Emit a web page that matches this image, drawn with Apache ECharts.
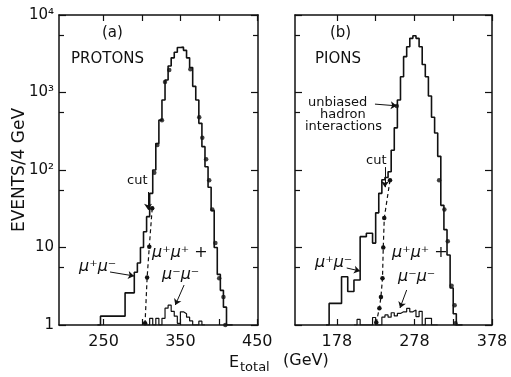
<!DOCTYPE html>
<html>
<head>
<meta charset="utf-8">
<script src="https://cdn.jsdelivr.net/npm/echarts@6/dist/echarts.min.js"></script>
<style>
  html, body { margin: 0; background: #fff; }
  #chart { width: 511px; height: 377px; }
</style>
</head>
<body>
<div id="chart"></div>
<script>
const BIN = 4; // GeV per bin

// (a) protons: events per 4 GeV bin, first bin low edge below
const protonStart = 242;
const protonCounts = [1, 1.3, 1.3, 1.3, 1.3, 1.3, 1.3, 1.3, 1.3, 2.6, 2.6, 2.6,
  4.8, 6.3, 10, 16, 25, 50, 100, 220, 440, 800, 1450, 2200, 2800, 3300, 3800, 3850,
  3500, 2800, 2100, 1200, 800, 400, 200, 110, 60, 30, 10, 4.5, 2.8, 1.7, 1, 1];
const protonDotE = [316, 320, 326, 330, 335.5, 363, 374.5, 378.5, 383.5, 387.5, 391.5, 395.5, 400.5, 406, 408.5];
const protonDotN = [92, 210, 440, 1370, 1950, 2000, 480, 260, 138, 74, 31, 11.4, 4, 2.3, 1];
const protonCutE = [313.3, 309.5, 306.7, 304];
const protonCutN = [32, 10.2, 4.1, 1.05];
const protonSameStart = 306;
const protonSameCounts = [1, 1.22, 1, 1.22, 1, 1.22, 1.65, 1.8, 1.5, 1.3, 1.05, 1.48, 1.4, 1.26, 1.13, 1, 1, 1.12, 1];

// (b) pions
const pionStart = 164;
const pionCounts = [1, 1.9, 1.9, 1.9, 1.9, 4.2, 4.2, 2.7, 2.7, 3.8, 3.8, 13.8, 13.8,
  15.3, 15.3, 11.4, 28, 50, 75, 80, 95, 180, 350, 800, 1600, 2900, 3900, 5000, 5400,
  5000, 3900, 2300, 1600, 900, 480, 300, 150, 35, 17, 8, 3, 1.4, 1, 1];
const pionDotE = [255.2, 309.8, 316.6, 321, 325.9, 329.8, 331];
const pionDotN = [670, 74, 31, 12, 3.2, 1.8, 1.05];
const pionCutE = [246.5, 239.1, 237.8, 236.8, 234.8, 232.8, 228.8];
const pionCutN = [74, 24, 10, 4, 2.3, 1.65, 1.08];
const pionSameStart = 200;
const pionSameCounts = [1, 1.18, 1, 1, 1, 1, 1.25, 1, 1, 1.26, 1.35, 1.26, 1.44, 1.31,
  1.41, 1.48, 1.48, 1.64, 1.48, 1.56, 1.28, 1.5, 1, 1.22, 1.22, 1, 1];

// axis ticks and labels
const protonTicks = [250, 300, 350, 400, 450];
const protonLabels = [250, 350, 450];
const pionTicks = [178, 228, 278, 328, 378];
const pionLabels = [178, 278, 378];

const FONT = 'DejaVu Sans';
const INK = '#111';

function steps(start, counts) {
  const pts = counts.map((c, i) => [start + i * BIN, c]);
  pts.push([start + counts.length * BIN, counts[counts.length - 1]]);
  return pts;
}
function pairs(xs, ys) {
  return xs.map((x, i) => [x, ys[i]]);
}

const axisLine = { show: true, onZero: false, lineStyle: { color: INK, width: 1.5 } };

function xAx(grid, pos, min, max, ticks, labels) {
  return {
    type: 'value', gridIndex: grid, position: pos, min: min, max: max,
    axisLine: axisLine,
    axisTick: { show: true, inside: true, length: 6, customValues: ticks, lineStyle: { color: INK, width: 1.2 } },
    axisLabel: pos === 'bottom'
      ? { show: true, customValues: labels, margin: 9, color: INK, fontFamily: FONT, fontSize: 16 }
      : { show: false },
    splitLine: { show: false }
  };
}
function sup(v) {
  const p = Math.round(Math.log10(v));
  return ['1', '10', '10²', '10³', '10⁴'][p];
}
function yAx(grid, pos, labels) {
  return {
    type: 'log', logBase: 10, gridIndex: grid, position: pos, min: 1, max: 10000,
    axisLine: axisLine,
    axisTick: { show: true, inside: true, length: 7, lineStyle: { color: INK, width: 1.2 } },
    minorTick: { show: true, splitNumber: 2, length: 5, lineStyle: { color: INK, width: 1.2 } },
    axisLabel: labels
      ? { show: true, margin: 5, color: INK, fontFamily: FONT, fontSize: 15, formatter: sup }
      : { show: false },
    splitLine: { show: false },
    minorSplitLine: { show: false }
  };
}

function arrow(from, to) {
  return [{ coord: from, symbol: 'none' }, { coord: to, symbol: 'arrow' }];
}
function arrows(list) {
  return {
    silent: true, symbolSize: 6, animation: false,
    label: { show: false },
    lineStyle: { color: INK, width: 1, type: 'solid' },
    data: list
  };
}

function hist(xi, yi, data, extra) {
  return Object.assign({
    type: 'line', xAxisIndex: xi, yAxisIndex: yi, step: 'end', data: data,
    symbol: 'none', lineStyle: { color: INK, width: 1.6 }, z: 3
  }, extra || {});
}
function dots(xi, yi, data) {
  return {
    type: 'scatter', xAxisIndex: xi, yAxisIndex: yi, data: data,
    symbol: 'circle', symbolSize: 4.5, itemStyle: { color: INK }, z: 4
  };
}
function dashed(xi, yi, data) {
  return {
    type: 'line', xAxisIndex: xi, yAxisIndex: yi, data: data,
    symbol: 'circle', symbolSize: 4.5, showSymbol: true,
    itemStyle: { color: INK }, lineStyle: { color: INK, width: 1.2, type: [4, 3] }, z: 4
  };
}

function txt(x, y, text, size, extra) {
  return {
    type: 'text', left: x, top: y, silent: true,
    style: Object.assign({ text: text, fill: INK, fontFamily: FONT, fontSize: size }, extra || {})
  };
}
const mu = { fontStyle: 'italic' };

const chart = echarts.init(document.getElementById('chart'), null, { renderer: 'canvas' });
chart.setOption({
  animation: false,
  backgroundColor: '#fff',
  grid: [
    { left: 59, top: 15, width: 199, height: 310 },
    { left: 295, top: 15, width: 197, height: 310 }
  ],
  xAxis: [
    xAx(0, 'bottom', 192, 451, protonTicks, protonLabels),
    xAx(0, 'top', 192, 451, protonTicks, protonLabels),
    xAx(1, 'bottom', 124, 378, pionTicks, pionLabels),
    xAx(1, 'top', 124, 378, pionTicks, pionLabels)
  ],
  yAxis: [
    yAx(0, 'left', true),
    yAx(0, 'right', false),
    yAx(1, 'left', false),
    yAx(1, 'right', false)
  ],
  series: [
    hist(0, 0, steps(protonStart, protonCounts), {
      markLine: arrows([
        arrow([258.4, 4.83], [289.7, 4.29]),
        arrow([307.9, 52], [307.9, 30.6]),
        arrow([354.8, 3.28], [343.4, 1.81])
      ])
    }),
    hist(0, 0, steps(protonSameStart, protonSameCounts), { lineStyle: { color: INK, width: 1.2 } }),
    dots(0, 0, pairs(protonDotE, protonDotN)),
    dashed(0, 0, pairs(protonCutE, protonCutN)),

    hist(2, 2, steps(pionStart, pionCounts), {
      markLine: arrows([
        arrow([227.1, 708], [255.1, 673]),
        arrow([240, 109], [240, 60]),
        arrow([190.7, 5.44], [207.8, 4.97]),
        arrow([268, 2.83], [259.4, 1.66])
      ])
    }),
    hist(2, 2, steps(pionSameStart, pionSameCounts), { lineStyle: { color: INK, width: 1.2 } }),
    dots(2, 2, pairs(pionDotE, pionDotN)),
    dashed(2, 2, pairs(pionCutE, pionCutN))
  ],
  graphic: [
    txt(102, 26, '(a)', 15),
    txt(71, 52, 'PROTONS', 15),
    txt(127, 174, 'cut', 13),
    txt(79, 259, 'μ⁺μ⁻', 16, mu),
    txt(152, 245, 'μ⁺μ⁺ +', 16, mu),
    txt(162, 267, 'μ⁻μ⁻', 16, mu),

    txt(330, 26, '(b)', 15),
    txt(315, 52, 'PIONS', 15),
    txt(308, 96, 'unbiased', 13),
    txt(320, 108, 'hadron', 13),
    txt(305, 120, 'interactions', 13),
    txt(366, 154, 'cut', 13),
    txt(315, 255, 'μ⁺μ⁻', 16, mu),
    txt(392, 245, 'μ⁺μ⁺ +', 16, mu),
    txt(398, 269, 'μ⁻μ⁻', 16, mu),

    {
      type: 'text', x: 20, y: 170, rotation: Math.PI / 2, silent: true,
      style: { text: 'EVENTS/4 GeV', fill: INK, fontFamily: FONT, fontSize: 17, align: 'center', verticalAlign: 'middle' }
    },
    txt(229, 355, 'E', 16),
    txt(240, 361, 'total', 13),
    txt(283, 353, '(GeV)', 16)
  ]
});
</script>
</body>
</html>
